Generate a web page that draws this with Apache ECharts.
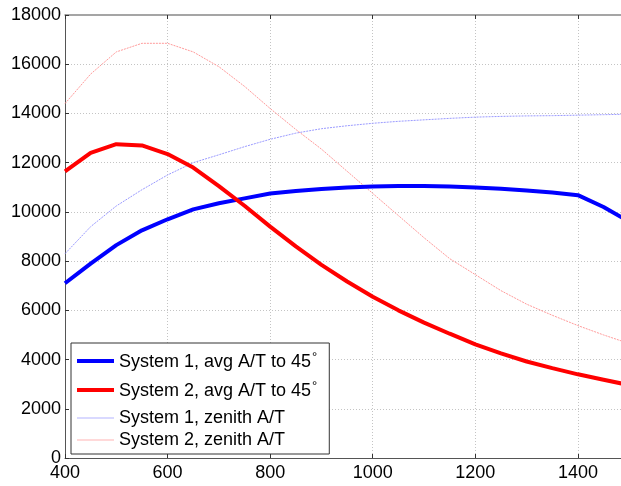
<!DOCTYPE html>
<html>
<head>
<meta charset="utf-8">
<script src="https://cdn.jsdelivr.net/npm/echarts@6/dist/echarts.min.js"></script>
<style>
html,body{margin:0;padding:0;background:#fff;}
#chart{width:621px;height:486px;}
</style>
</head>
<body>
<div id="chart"></div>
<script>
// Data
const xValues = [400,450,500,550,600,650,700,750,800,850,900,950,1000,1050,1100,1150,1200,1250,1300,1350,1400,1450,1500];
const sys1Avg = [7100,7900,8650,9250,9700,10100,10350,10550,10750,10850,10930,10990,11030,11050,11050,11030,10990,10940,10870,10790,10680,10200,9600];
const sys2Avg = [11650,12400,12750,12700,12350,11800,11050,10250,9400,8600,7850,7170,6550,6000,5500,5050,4620,4250,3920,3650,3400,3180,2960];
const sys1Zen = [8300,9400,10240,10900,11500,12000,12320,12650,12950,13200,13380,13500,13600,13680,13740,13800,13850,13880,13900,13910,13930,13950,13970];
const sys2Zen = [14400,15600,16500,16850,16850,16500,15900,15100,14200,13350,12550,11650,10750,9850,8950,8100,7450,6800,6250,5800,5380,5000,4650];
const seriesNames = ['System 1, avg A/T to 45', 'System 2, avg A/T to 45', 'System 1, zenith A/T', 'System 2, zenith A/T'];
const xTicks = {min: 400, max: 1484, interval: 200};
const yTicks = {min: 0, max: 18000, interval: 2000};

const pairs = arr => xValues.map((x, i) => [x, arr[i]]);
const FONT = '"Liberation Sans", Arial, Helvetica, sans-serif';
const thickIcon = 'path://M0,0L37,0L37,4L0,4Z';
const thinIcon = 'path://M0,0L37,0L37,1L0,1Z';

const chart = echarts.init(document.getElementById('chart'), null, {renderer: 'canvas'});
const axisLineColor = '#555';
const option = {
  animation: false,
  backgroundColor: '#fff',
  grid: {left: 65, top: 15, right: 0, bottom: 28, containLabel: false},
  xAxis: [{
    type: 'value', position: 'bottom',
    min: xTicks.min, max: xTicks.max, interval: xTicks.interval,
    axisLine: {show: true, onZero: false, lineStyle: {color: axisLineColor, width: 1}},
    axisTick: {show: true, inside: true, length: 4, lineStyle: {color: '#333'}},
    axisLabel: {show: true, showMaxLabel: false, color: '#000', fontFamily: FONT, fontSize: 18, margin: 6,
                formatter: v => String(v)},
    splitLine: {show: true, showMaxLine: false, lineStyle: {color: '#c4c4c4', type: [1, 2], width: 1}}
  }, {
    type: 'value', position: 'top',
    min: xTicks.min, max: xTicks.max, interval: xTicks.interval,
    axisLine: {show: true, onZero: false, lineStyle: {color: '#888', width: 1.5}},
    axisTick: {show: true, inside: true, length: 4, lineStyle: {color: '#333'}},
    axisLabel: {show: false},
    splitLine: {show: false}
  }],
  yAxis: [{
    type: 'value',
    min: yTicks.min, max: yTicks.max, interval: yTicks.interval,
    axisLine: {show: true, onZero: false, lineStyle: {color: axisLineColor, width: 1}},
    axisTick: {show: true, inside: true, length: 4, lineStyle: {color: '#333'}},
    axisLabel: {show: true, color: '#000', fontFamily: FONT, fontSize: 18, margin: 4,
                formatter: v => String(v)},
    splitLine: {show: true, showMinLine: false, showMaxLine: false, lineStyle: {color: '#c4c4c4', type: [1, 2], width: 1}}
  }],
  legend: {
    orient: 'vertical',
    left: 71, top: 343,
    backgroundColor: '#fff',
    borderColor: '#333', borderWidth: 1,
    padding: [8, 12, 5, 6],
    itemGap: 4,
    itemWidth: 37, itemHeight: 14,
    symbolKeepAspect: true,
    data: [
      {name: seriesNames[0], icon: thickIcon},
      {name: seriesNames[1], icon: thickIcon},
      {name: seriesNames[2], icon: thinIcon},
      {name: seriesNames[3], icon: thinIcon}
    ],
    formatter: name => name.indexOf('45') >= 0 ? '{m|' + name + '}{d|°}' : '{n|' + name + '}',
    textStyle: {
      color: '#000', fontFamily: FONT, fontSize: 18,
      rich: {
        m: {fontFamily: FONT, fontSize: 18, lineHeight: 20, verticalAlign: 'bottom', color: '#000'},
        d: {fontFamily: FONT, fontSize: 13, lineHeight: 12, padding: [0, 0, 12, 1], verticalAlign: 'top', color: '#000'},
        n: {fontFamily: FONT, fontSize: 18, lineHeight: 20, color: '#000'}
      }
    }
  },
  series: [
    {name: seriesNames[0], type: 'line', data: pairs(sys1Avg), symbol: 'none', smooth: false, z: 4,
     lineStyle: {color: '#0000ff', width: 4}, itemStyle: {color: '#0000ff'}},
    {name: seriesNames[1], type: 'line', data: pairs(sys2Avg), symbol: 'none', smooth: false, z: 4,
     lineStyle: {color: '#ff0000', width: 4}, itemStyle: {color: '#ff0000'}},
    {name: seriesNames[2], type: 'line', data: pairs(sys1Zen), symbol: 'none', smooth: false, z: 3,
     lineStyle: {color: '#9a9aff', width: 1, type: [2, 1]}, itemStyle: {color: '#b4b4ff'}},
    {name: seriesNames[3], type: 'line', data: pairs(sys2Zen), symbol: 'none', smooth: false, z: 3,
     lineStyle: {color: '#ff9a9a', width: 1, type: [2, 1]}, itemStyle: {color: '#ffb4b4'}}
  ]
};
chart.setOption(option);
</script>
</body>
</html>
